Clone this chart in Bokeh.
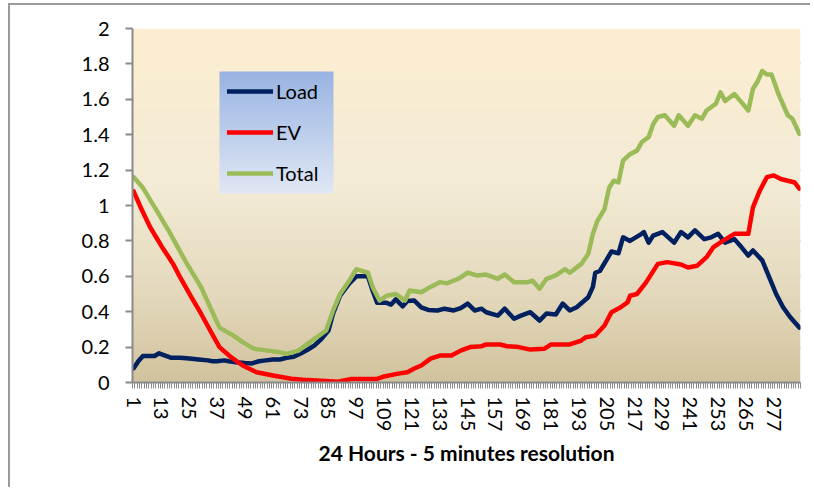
import numpy as np
from bokeh.plotting import figure
from bokeh.layouts import column
from bokeh.models import FixedTicker, Legend, LegendItem, Label, Range1d
from bokeh.embed import file_html
from bokeh.resources import INLINE

# ---------------- data ----------------
categories = list(range(1, 289))
x_tick_values = list(range(1, 289, 12))
y_tick_values = [0, 0.2, 0.4, 0.6, 0.8, 1.0, 1.2, 1.4, 1.6, 1.8, 2.0]
y_tick_labels = ["0", "0.2", "0.4", "0.6", "0.8", "1", "1.2", "1.4", "1.6", "1.8", "2"]

load_x = [1, 3, 5, 8, 10, 12, 14, 17, 21, 25, 29, 33, 35, 37, 40, 42, 45, 49, 52, 55, 58, 61, 64, 67,
          70, 73, 76, 79, 82, 85, 87, 90, 94, 97, 102, 104, 106, 110, 112, 114, 117, 119, 122, 125,
          128, 132, 135, 139, 142, 145, 148, 151, 153, 158, 161, 165, 168, 172, 176, 179, 183, 186,
          189, 192, 197, 199, 200, 202, 207, 210, 212, 215, 220, 221, 223, 225, 229, 234, 237, 240,
          243, 247, 250, 253, 256, 260, 263, 266, 268, 272, 275, 278, 281, 284, 288]
load_y = [0.08, 0.12, 0.15, 0.15, 0.15, 0.165, 0.155, 0.14, 0.14, 0.135, 0.13, 0.125, 0.12, 0.12,
          0.125, 0.12, 0.115, 0.11, 0.108, 0.12, 0.125, 0.13, 0.13, 0.14, 0.145, 0.164, 0.185, 0.21,
          0.247, 0.294, 0.39, 0.49, 0.56, 0.60, 0.60, 0.52, 0.45, 0.45, 0.44, 0.47, 0.43, 0.46, 0.463,
          0.425, 0.41, 0.407, 0.417, 0.407, 0.42, 0.446, 0.407, 0.417, 0.397, 0.378, 0.417, 0.36,
          0.378, 0.397, 0.35, 0.39, 0.384, 0.446, 0.407, 0.425, 0.482, 0.54, 0.62, 0.63, 0.74, 0.73,
          0.82, 0.80, 0.84, 0.85, 0.79, 0.83, 0.85, 0.79, 0.85, 0.82, 0.86, 0.81, 0.82, 0.84, 0.79,
          0.81, 0.765, 0.717, 0.746, 0.69, 0.595, 0.50, 0.425, 0.37, 0.31]

ev_x = [1, 4, 8, 13, 16, 18, 21, 26, 30, 34, 38, 43, 48, 54, 61, 69, 74, 80, 89, 95, 106, 109, 115,
        119, 122, 125, 129, 133, 138, 142, 146, 151, 153, 159, 162, 167, 172, 178, 181, 189, 194,
        196, 200, 204, 207, 211, 214, 215, 218, 222, 227, 231, 237, 240, 244, 248, 251, 255, 260,
        266, 268, 271, 274, 277, 280, 283, 286, 288]
ev_y = [1.08, 0.99, 0.88, 0.77, 0.71, 0.67, 0.595, 0.48, 0.39, 0.294, 0.20, 0.143, 0.096, 0.058, 0.04,
        0.021, 0.015, 0.011, 0.004, 0.02, 0.02, 0.034, 0.05, 0.058, 0.079, 0.096, 0.135, 0.152, 0.152,
        0.18, 0.2, 0.205, 0.215, 0.215, 0.205, 0.2, 0.186, 0.19, 0.215, 0.215, 0.237, 0.256, 0.265,
        0.322, 0.397, 0.425, 0.454, 0.49, 0.5, 0.567, 0.67, 0.68, 0.667, 0.65, 0.66, 0.708, 0.765,
        0.80, 0.84, 0.84, 0.99, 1.085, 1.16, 1.17, 1.15, 1.14, 1.13, 1.095]

total_x = [1, 5, 11, 16, 20, 24, 30, 34, 38, 44, 48, 53, 59, 64, 67, 72, 76, 80, 84, 87, 90, 94, 97,
           102, 104, 107, 110, 114, 118, 120, 125, 129, 133, 136, 141, 145, 149, 153, 158, 161, 165,
           171, 173, 176, 179, 183, 187, 189, 194, 197, 199, 201, 204, 206, 208, 210, 212, 215, 218,
           220, 223, 225, 227, 230, 234, 236, 240, 243, 246, 248, 252, 254, 256, 260, 263, 266, 268,
           270, 272, 274, 276, 279, 283, 285, 288]
total_y = [1.16, 1.10, 0.97, 0.86, 0.765, 0.67, 0.54, 0.425, 0.31, 0.265, 0.228, 0.19, 0.18, 0.171,
           0.162, 0.18, 0.218, 0.256, 0.294, 0.407, 0.50, 0.576, 0.64, 0.62, 0.54, 0.463, 0.49, 0.50,
           0.463, 0.52, 0.51, 0.54, 0.567, 0.56, 0.586, 0.62, 0.605, 0.61, 0.586, 0.61, 0.567, 0.567,
           0.575, 0.53, 0.586, 0.605, 0.64, 0.62, 0.67, 0.727, 0.84, 0.915, 0.98, 1.10, 1.14, 1.13,
           1.254, 1.29, 1.31, 1.357, 1.386, 1.46, 1.50, 1.51, 1.45, 1.51, 1.45, 1.51, 1.49, 1.537,
           1.575, 1.64, 1.59, 1.63, 1.584, 1.537, 1.66, 1.70, 1.76, 1.74, 1.74, 1.63, 1.51, 1.49, 1.405]

series_names = ["Load", "EV", "Total"]
series_colors = ["#002060", "#FF0000", "#9BBB59"]

# ---------------- figure ----------------
FONT = "Lato"
x_start = categories[0] - 0.5
x_end = categories[-1] + 0.5
y_start, y_end = y_tick_values[0], y_tick_values[-1]
FRAME_W, FRAME_H = 668, 354

p = figure(width=800, height=482, output_backend="svg", toolbar_location=None,
           x_range=Range1d(x_start, x_end), y_range=Range1d(y_start, y_end),
           min_border_left=122, min_border_right=10, min_border_top=23, min_border_bottom=105)
p.outline_line_color = None
p.background_fill_color = "white"
p.border_fill_color = "white"


def vgradient(stops_t, stops_c, n=200):
    t = np.linspace(0, 1, n)
    rgb = np.stack([np.interp(t, stops_t, [c[k] for c in stops_c]) for k in range(3)],
                   axis=1).astype(np.uint32)
    img = np.empty((n, 1), dtype=np.uint32)
    img[:, 0] = (255 << 24) | (rgb[:, 2] << 16) | (rgb[:, 1] << 8) | rgb[:, 0]
    return img


# gradient plot-area background (row 0 = bottom)
p.image_rgba(image=[vgradient([0.0, 0.25, 0.55, 1.0],
                              [(210, 195, 158), (228, 217, 189), (243, 235, 213), (253, 238, 210)])],
             x=x_start, y=y_start, dw=x_end - x_start, dh=y_end - y_start)

# gradient legend box, placed in screen pixels relative to the frame
px_x = FRAME_W / (x_end - x_start)
px_y = FRAME_H / (y_end - y_start)
LEG_LEFT, LEG_BOTTOM, LEG_W, LEG_H = 87, 189, 114, 122
p.image_rgba(image=[vgradient([0.0, 1.0], [(224, 232, 245), (153, 180, 226)])],
             x=x_start + LEG_LEFT / px_x, y=y_start + LEG_BOTTOM / px_y,
             dw=LEG_W / px_x, dh=LEG_H / px_y)

# grid
p.xgrid.visible = False
p.ygrid.ticker = FixedTicker(ticks=y_tick_values)
p.ygrid.grid_line_color = "#8A8A8A"
p.ygrid.grid_line_width = 2

# y axis
p.yaxis.ticker = FixedTicker(ticks=y_tick_values)
p.yaxis.major_label_overrides = {v: s for v, s in zip(y_tick_values, y_tick_labels)}
p.yaxis.axis_line_color = "#8A8A8A"
p.yaxis.axis_line_width = 2
p.yaxis.major_tick_line_color = "#8A8A8A"
p.yaxis.major_tick_line_width = 2
p.yaxis.major_tick_out = 7
p.yaxis.major_tick_in = 0
p.yaxis.minor_tick_line_color = None
p.yaxis.major_label_standoff = 16
p.yaxis.major_label_text_font = FONT
p.yaxis.major_label_text_font_size = "20px"
p.yaxis.major_label_text_color = "black"

# x axis
p.xaxis.ticker = FixedTicker(ticks=x_tick_values,
                             minor_ticks=[c - 0.5 for c in categories] + [x_end])
p.xaxis.major_label_orientation = "vertical"
p.xaxis.axis_line_color = "#8A8A8A"
p.xaxis.axis_line_width = 2
p.xaxis.major_tick_line_color = None
p.xaxis.major_tick_out = 6
p.xaxis.minor_tick_line_color = "#8A8A8A"
p.xaxis.minor_tick_line_width = 1
p.xaxis.minor_tick_out = 6
p.xaxis.minor_tick_in = 0
p.xaxis.major_label_standoff = 8
p.xaxis.major_label_text_font = FONT
p.xaxis.major_label_text_font_size = "20px"
p.xaxis.major_label_text_color = "black"
p.xaxis.axis_label = "24 Hours - 5 minutes resolution"
p.xaxis.axis_label_text_font = FONT
p.xaxis.axis_label_text_font_size = "21px"
p.xaxis.axis_label_text_font_style = "bold"
p.xaxis.axis_label_text_color = "black"
p.xaxis.axis_label_standoff = 6

# y axis title, horizontal as in the reference
p.add_layout(Label(x=x_start - 77 / px_x, y=1.0, text="kW", text_font=FONT,
                   text_font_size="20px", text_font_style="bold", text_color="black",
                   text_align="center", text_baseline="middle"))

# lines
r_load = p.line(load_x, load_y, line_color=series_colors[0], line_width=4.5, line_join="round", line_cap="round")
r_ev = p.line(ev_x, ev_y, line_color=series_colors[1], line_width=4.5, line_join="round", line_cap="round")
r_tot = p.line(total_x, total_y, line_color=series_colors[2], line_width=4.5, line_join="round", line_cap="round")

legend = Legend(items=[LegendItem(label=series_names[0], renderers=[r_load]),
                       LegendItem(label=series_names[1], renderers=[r_ev]),
                       LegendItem(label=series_names[2], renderers=[r_tot])],
                location=(LEG_LEFT + 8, LEG_BOTTOM + 8), orientation="vertical",
                background_fill_alpha=0.0, border_line_color=None,
                padding=0, margin=0, spacing=17,
                glyph_width=46, glyph_height=20, label_standoff=3,
                label_text_font=FONT, label_text_font_size="20px", label_text_color="black")
p.add_layout(legend)

# outer chart-area frame (top and left edges visible in the reference)
layout = column(p, styles={"margin-left": "8px", "margin-top": "3px",
                           "border-top": "2px solid #9A9A9A", "border-left": "2px solid #9A9A9A"})

open("out.html", "w").write(file_html(layout, INLINE))
